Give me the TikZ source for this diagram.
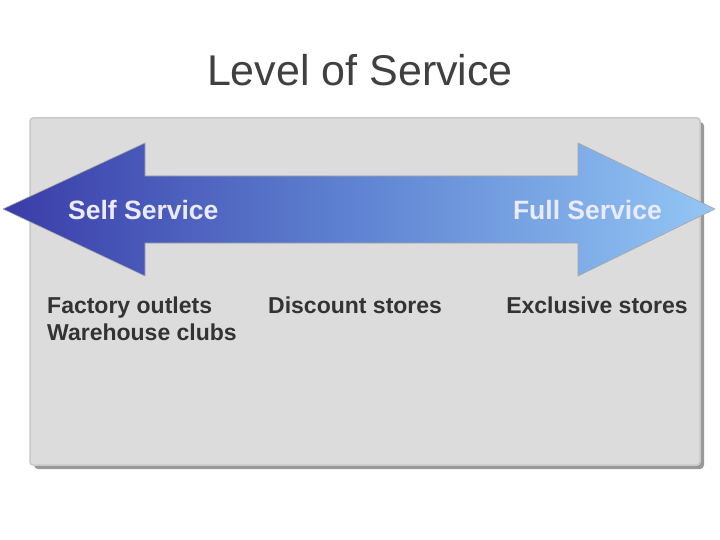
\documentclass[tikz,border=0pt]{standalone}
\usepackage{fontspec}
\setmainfont{Liberation Sans}
\begin{document}
\begin{tikzpicture}[x=1pt,y=-1pt,
  titletext/.style={font=\fontsize{43}{47}\selectfont, text=black!75, inner sep=0pt},
  arrowtext/.style={font=\bfseries\fontsize{26.5}{30}\selectfont, text=white!92!blue, inner sep=0pt},
  itemtext/.style={font=\bfseries\fontsize{23}{27}\selectfont, text=black!80, inner sep=0pt, align=left},
]
\definecolor{boxfill}{HTML}{DCDCDC}
\definecolor{boxline}{HTML}{C9C9C9}
\definecolor{shadowc}{HTML}{999999}
\definecolor{adark}{HTML}{3A3CA8}
\definecolor{amid}{HTML}{5F84D2}
\definecolor{alight}{HTML}{93C6F5}
\useasboundingbox (0,0) rectangle (720,540);
\fill[white] (0,0) rectangle (720,540);
% box shadow and box
\fill[shadowc, rounded corners=4pt] (34,122) rectangle (704,469);
\draw[boxline, fill=boxfill, line width=1.5pt, rounded corners=3pt] (30,118) rectangle (700,465);
% double arrow
\path[left color=adark, right color=alight, middle color=amid, draw=black!35, line width=0.6pt]
  (3,209) -- (145,143) -- (145,176) -- (578,176) -- (578,143) -- (715,209)
  -- (578,276) -- (578,243) -- (145,243) -- (145,276) -- cycle;
% title
\node[titletext] (title) at (360,70) {Level of Service};
% arrow labels
\node[arrowtext, anchor=base west] (self) at (68,219) {Self Service};
\node[arrowtext, anchor=base east] (full) at (662,219) {Full Service};
% item labels
\node[itemtext, anchor=north west] (factory) at (47,297) {Factory outlets\\Warehouse clubs};
\node[itemtext, anchor=north west] (discount) at (268,297) {Discount stores};
\node[itemtext, anchor=north east] (exclusive) at (688,297) {Exclusive stores};
\end{tikzpicture}
\end{document}
